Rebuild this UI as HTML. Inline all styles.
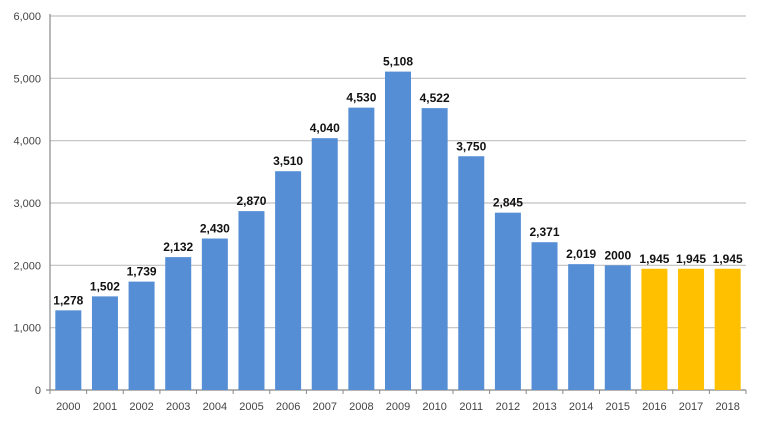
<!DOCTYPE html>
<html><head><meta charset="utf-8"><style>
body{margin:0;background:#fff}
svg{display:block;font-family:"Liberation Sans",sans-serif}
</style></head><body>
<svg id="chart" width="770" height="433"></svg>
<script>
const categories=["2000","2001","2002","2003","2004","2005","2006","2007","2008","2009","2010","2011","2012","2013","2014","2015","2016","2017","2018"];
const values=[1278,1502,1739,2132,2430,2870,3510,4040,4530,5108,4522,3750,2845,2371,2019,2000,1945,1945,1945];
const valueLabels=["1,278","1,502","1,739","2,132","2,430","2,870","3,510","4,040","4,530","5,108","4,522","3,750","2,845","2,371","2,019","2000","1,945","1,945","1,945"];
const forecast=[false,false,false,false,false,false,false,false,false,false,false,false,false,false,false,false,true,true,true];
const yTicks=[0,1000,2000,3000,4000,5000,6000];
const yTickLabels=["0","1,000","2,000","3,000","4,000","5,000","6,000"];

const svg=document.getElementById('chart');
const NS='http://www.w3.org/2000/svg';
const x0=50,x1=746,y0=390,y1=16,yMax=6000;
const band=(x1-x0)/categories.length;
const yS=v=>y0-(v/yMax)*(y0-y1);
const xS=i=>x0+band*i+band/2;
function mk(t,a){const e=document.createElementNS(NS,t);for(const k in a)e.setAttribute(k,a[k]);svg.appendChild(e);return e;}

yTicks.forEach((v,i)=>{
  if(v>0){const g=mk('line',{x1:x0,x2:x1,y1:yS(v),y2:yS(v),stroke:'#c0c0c0','stroke-width':1.2});
  
  }
  const t=mk('text',{x:x0-9,y:yS(v)+4,'text-anchor':'end','font-size':11,fill:'#444'});
  t.textContent=yTickLabels[i];
  
  
});
const ax=mk('line',{x1:x0,x2:x0,y1:y1-2,y2:y0,stroke:'#888','stroke-width':1.2});


const bx=mk('line',{x1:x0-4,x2:x1,y1:y0,y2:y0,stroke:'#888','stroke-width':1.2});


for(let i=0;i<=categories.length;i++){
  const tk=mk('line',{x1:x0+band*i,x2:x0+band*i,y1:y0,y2:y0+4,stroke:'#888'});
  
  
}
categories.forEach((c,i)=>{
  const w=26,cx=xS(i);
  const r=mk('rect',{x:cx-w/2,y:yS(values[i]),width:w,height:y0-yS(values[i]),fill:forecast[i]?'#ffc000':'#558ed5'});
  
  
  const lb=mk('text',{x:cx,y:yS(values[i])-6,'text-anchor':'middle','font-size':12,'font-weight':'bold',fill:'#111'});
  lb.textContent=valueLabels[i];
  
  
  const xl=mk('text',{x:cx,y:y0+20,'text-anchor':'middle','font-size':11,fill:'#444'});
  xl.textContent=c;
  
  
});
</script>
</body></html>
